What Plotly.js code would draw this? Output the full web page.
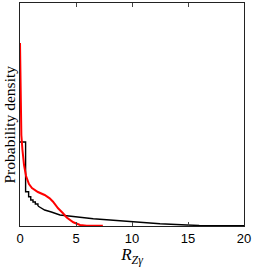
<!DOCTYPE html>
<html>
<head>
<meta charset="utf-8">
<script src="https://cdn.plot.ly/plotly-3.0.1.min.js"></script>
<style>html,body{margin:0;padding:0;background:#fff;}#chart{width:256px;height:267px;}</style>
</head>
<body>
<div id="chart"></div>
<script>
// Histogram (step part): bin left edges and heights
const histStepX = [0, 0.5, 0.77, 0.96, 1.16, 1.37, 1.6];
const histStepY = [0.84, 0.343, 0.293, 0.26, 0.24, 0.22, 0.20];
// Histogram tail (fine bins, appears smooth)
const histTailX = [1.6, 2.2, 2.8, 3.57, 6.54, 9.53, 12.5, 14.9, 16.0, 20.0];
const histTailY = [0.20, 0.16, 0.14, 0.11, 0.073, 0.047, 0.023, 0.010, 0.005, 0.002];
// Kernel density estimate (red)
const kdeX = [0, 0.03, 0.06, 0.12, 0.22, 0.36, 0.54, 0.8, 1.07, 1.6, 2.2, 2.65, 2.95, 3.4, 3.84, 4.17, 4.76, 5.36, 5.95, 7.4];
const kdeY = [1.83, 1.46, 1.16, 0.91, 0.76, 0.61, 0.50, 0.42, 0.38, 0.34, 0.31, 0.277, 0.243, 0.177, 0.127, 0.085, 0.037, 0.01, 0.003, 0.002];
const xTicks = [0, 5, 10, 15, 20];
const yTitle = 'Probability density';

const traces = [
  {x: histStepX, y: histStepY, mode: 'lines', line: {color: '#000', width: 1.4, shape: 'hv'}, hoverinfo: 'skip'},
  {x: histTailX, y: histTailY, mode: 'lines', line: {color: '#000', width: 1.4}, hoverinfo: 'skip'},
  {x: kdeX, y: kdeY, mode: 'lines', line: {color: '#ff0000', width: 2}, hoverinfo: 'skip'}
];
const layout = {
  width: 256, height: 267,
  margin: {l: 20, r: 12, t: 3, b: 41},
  showlegend: false,
  paper_bgcolor: '#fff', plot_bgcolor: '#fff',
  xaxis: {
    range: [0, 20], tickvals: xTicks, ticktext: xTicks.map(String),
    ticks: 'inside', ticklen: 4, tickcolor: '#444', tickwidth: 1,
    showline: true, linecolor: '#222', linewidth: 1, mirror: 'ticks',
    showgrid: false, zeroline: false,
    tickfont: {family: 'Liberation Sans, Arial, sans-serif', size: 13, color: '#000'},
    title: {text: '<i>R</i><sub><i>Zγ</i></sub>', font: {family: 'Liberation Serif, Times New Roman, serif', size: 17, color: '#000'}, standoff: 4}
  },
  yaxis: {
    range: [0, 2.23], showticklabels: false, ticks: '',
    showline: true, linecolor: '#222', linewidth: 1, mirror: true,
    showgrid: false, zeroline: false
  },
  annotations: [{
    text: yTitle, xref: 'paper', yref: 'paper', x: -0.049, y: 0.5, yshift: -10,
    xanchor: 'center', yanchor: 'middle', textangle: -90, showarrow: false,
    font: {family: 'Liberation Serif, Times New Roman, serif', size: 15.5, color: '#000'}
  }]
};
Plotly.newPlot('chart', traces, layout, {staticPlot: true, displayModeBar: false});
</script>
</body>
</html>
